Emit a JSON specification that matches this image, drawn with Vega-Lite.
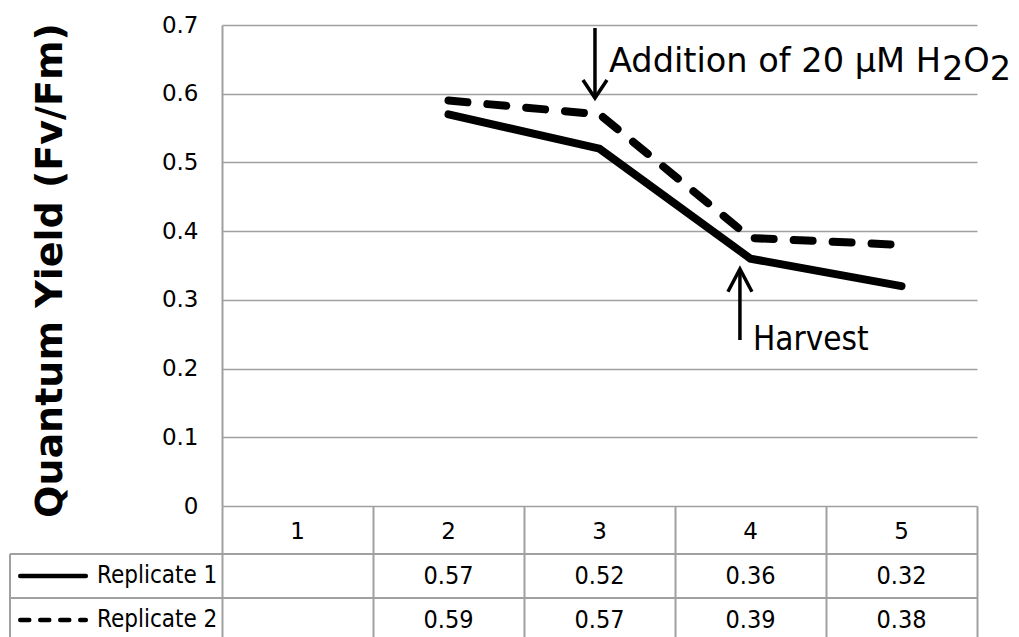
{
  "$schema": "https://vega.github.io/schema/vega-lite/v6.json",
  "width": 755,
  "height": 481,
  "autosize": {"type": "none"},
  "padding": {"left": 222, "top": 25, "right": 42, "bottom": 131},
  "background": "white",
  "config": {"view": {"stroke": null}, "font": "DejaVu Sans"},
  "datasets": {
    "qy": [
      {"series": "Replicate 1", "trial": 2, "value": 0.57},
      {"series": "Replicate 1", "trial": 3, "value": 0.52},
      {"series": "Replicate 1", "trial": 4, "value": 0.36},
      {"series": "Replicate 1", "trial": 5, "value": 0.32},
      {"series": "Replicate 2", "trial": 2, "value": 0.59},
      {"series": "Replicate 2", "trial": 3, "value": 0.57},
      {"series": "Replicate 2", "trial": 4, "value": 0.39},
      {"series": "Replicate 2", "trial": 5, "value": 0.38}
    ],
    "trials": [{"trial": 1}, {"trial": 2}, {"trial": 3}, {"trial": 4}, {"trial": 5}],
    "series": [{"series": "Replicate 1"}, {"series": "Replicate 2"}],
    "notes": [
      {"note": "Addition of 20 µM H2O2", "label": "Addition of 20 µM H", "trial": 2.97, "from": 0.6956, "to": 0.5938},
      {"note": "Harvest", "label": "Harvest", "trial": 3.93, "from": 0.2416, "to": 0.3449}
    ]
  },
  "layer": [
    {
      "data": {"name": "qy"},
      "transform": [{"filter": "datum.series === 'Replicate 1'"}],
      "mark": {"type": "line", "color": "black", "strokeWidth": 8, "strokeCap": "round"},
      "encoding": {
        "x": {
          "field": "trial", "type": "quantitative",
          "scale": {"domain": [0.5, 5.5], "nice": false, "zero": false},
          "axis": {"values": [0.5, 1.5, 2.5, 3.5, 4.5, 5.5], "labels": false, "domain": false, "grid": false, "ticks": true, "tickSize": 137, "tickColor": "#a0a0a0", "tickWidth": 2, "title": null}
        },
        "y": {
          "field": "value", "type": "quantitative",
          "scale": {"domain": [0, 0.7], "nice": false, "zero": false},
          "axis": {
            "values": [0, 0.1, 0.2, 0.3, 0.4, 0.5, 0.6, 0.7], "format": "~g",
            "grid": true, "gridColor": "#a0a0a0", "gridWidth": 1.5,
            "domain": true, "domainColor": "#a0a0a0", "domainWidth": 2, "ticks": false,
            "labelFont": "DejaVu Sans", "labelFontSize": 23, "labelColor": "black", "labelPadding": 24,
            "title": "Quantum Yield (Fv/Fm)", "titleFont": "DejaVu Sans", "titleFontWeight": "bold", "titleFontSize": 38, "titleColor": "black",
            "titleAngle": 270, "titleX": -161, "titleY": 245, "titleBaseline": "alphabetic", "titleAlign": "center"
          }
        }
      }
    },
    {
      "data": {"name": "qy"},
      "transform": [{"filter": "datum.series === 'Replicate 2'"}],
      "mark": {"type": "line", "color": "black", "strokeWidth": 8, "strokeCap": "round", "strokeDash": [19, 20]},
      "encoding": {
        "x": {"field": "trial", "type": "quantitative"},
        "y": {"field": "value", "type": "quantitative"}
      }
    },
    {
      "data": {"name": "qy"},
      "transform": [{"filter": "datum.series === 'Replicate 1'"}],
      "mark": {"type": "text", "font": "DejaVu Sans Condensed, DejaVu Sans", "fontSize": 25, "color": "black", "baseline": "middle", "align": "center"},
      "encoding": {
        "x": {"field": "trial", "type": "quantitative"},
        "y": {"datum": -0.1019},
        "text": {"field": "value", "type": "quantitative", "format": ".2f"}
      }
    },
    {
      "data": {"name": "qy"},
      "transform": [{"filter": "datum.series === 'Replicate 2'"}],
      "mark": {"type": "text", "font": "DejaVu Sans Condensed, DejaVu Sans", "fontSize": 25, "color": "black", "baseline": "middle", "align": "center"},
      "encoding": {
        "x": {"field": "trial", "type": "quantitative"},
        "y": {"datum": -0.1659},
        "text": {"field": "value", "type": "quantitative", "format": ".2f"}
      }
    },
    {
      "data": {"name": "trials"},
      "mark": {"type": "text", "font": "DejaVu Sans", "fontSize": 23, "color": "black", "baseline": "middle", "align": "center"},
      "encoding": {
        "x": {"field": "trial", "type": "quantitative"},
        "y": {"datum": -0.0378},
        "text": {"field": "trial", "type": "nominal"}
      }
    },
    {
      "data": {"name": "series"},
      "transform": [{"filter": "datum.series === 'Replicate 1'"}],
      "mark": {"type": "text", "font": "DejaVu Sans Condensed, DejaVu Sans", "fontSize": 24, "color": "black", "baseline": "middle", "align": "left"},
      "encoding": {
        "x": {"datum": -0.328},
        "y": {"datum": -0.1019},
        "text": {"field": "series", "type": "nominal"}
      }
    },
    {
      "data": {"name": "series"},
      "transform": [{"filter": "datum.series === 'Replicate 2'"}],
      "mark": {"type": "text", "font": "DejaVu Sans Condensed, DejaVu Sans", "fontSize": 24, "color": "black", "baseline": "middle", "align": "left"},
      "encoding": {
        "x": {"datum": -0.328},
        "y": {"datum": -0.1659},
        "text": {"field": "series", "type": "nominal"}
      }
    },
    {
      "data": {"values": [{}]},
      "mark": {"type": "rule", "color": "black", "strokeWidth": 4.5, "strokeCap": "round"},
      "encoding": {
        "x": {"datum": -0.836},
        "x2": {"datum": -0.402},
        "y": {"datum": -0.1019}
      }
    },
    {
      "data": {"values": [{}]},
      "mark": {"type": "rule", "color": "black", "strokeWidth": 4.5, "strokeCap": "round", "strokeDash": [9, 11]},
      "encoding": {
        "x": {"datum": -0.836},
        "x2": {"datum": -0.402},
        "y": {"datum": -0.1659}
      }
    },
    {
      "data": {"values": [{}]},
      "mark": {"type": "rule", "color": "#a0a0a0", "strokeWidth": 2},
      "encoding": {
        "x": {"datum": -0.904},
        "x2": {"datum": 5.5},
        "y": {"datum": -0.0699}
      }
    },
    {
      "data": {"values": [{}]},
      "mark": {"type": "rule", "color": "#a0a0a0", "strokeWidth": 2},
      "encoding": {
        "x": {"datum": -0.904},
        "x2": {"datum": 5.5},
        "y": {"datum": -0.1339}
      }
    },
    {
      "data": {"values": [{}]},
      "mark": {"type": "rule", "color": "#a0a0a0", "strokeWidth": 2},
      "encoding": {
        "x": {"datum": -0.904},
        "y": {"datum": -0.0699},
        "y2": {"datum": -0.2}
      }
    },
    {
      "data": {"name": "notes"},
      "mark": {"type": "rule", "color": "black", "strokeWidth": 3.5},
      "encoding": {
        "x": {"field": "trial", "type": "quantitative"},
        "y": {"field": "from", "type": "quantitative"},
        "y2": {"field": "to"}
      }
    },
    {
      "data": {"name": "notes"},
      "transform": [{"filter": "datum.note === 'Harvest'"}],
      "mark": {"type": "point", "shape": "M-1,1.9L0,0L1,1.9", "size": 576, "filled": false, "fill": "transparent", "stroke": "black", "strokeWidth": 3.5, "opacity": 1},
      "encoding": {
        "x": {"field": "trial", "type": "quantitative"},
        "y": {"field": "to", "type": "quantitative"}
      }
    },
    {
      "data": {"name": "notes"},
      "transform": [{"filter": "datum.note !== 'Harvest'"}],
      "mark": {"type": "point", "shape": "M-1,-1.5L0,0L1,-1.5", "size": 576, "filled": false, "fill": "transparent", "stroke": "black", "strokeWidth": 3.5, "opacity": 1},
      "encoding": {
        "x": {"field": "trial", "type": "quantitative"},
        "y": {"field": "to", "type": "quantitative"}
      }
    },
    {
      "data": {"name": "notes"},
      "transform": [{"filter": "datum.note !== 'Harvest'"}],
      "mark": {"type": "text", "font": "DejaVu Sans", "fontSize": 33.6, "color": "black", "align": "left", "baseline": "alphabetic", "dx": 14, "dy": 44},
      "encoding": {
        "x": {"field": "trial", "type": "quantitative"},
        "y": {"field": "from", "type": "quantitative"},
        "text": {"field": "label", "type": "nominal"}
      }
    },
    {
      "data": {"name": "notes"},
      "transform": [{"filter": "datum.note !== 'Harvest'"}],
      "mark": {"type": "text", "font": "DejaVu Sans", "fontSize": 33.6, "color": "black", "align": "left", "baseline": "alphabetic", "dx": 347, "dy": 52, "text": "2"},
      "encoding": {
        "x": {"field": "trial", "type": "quantitative"},
        "y": {"field": "from", "type": "quantitative"}
      }
    },
    {
      "data": {"name": "notes"},
      "transform": [{"filter": "datum.note !== 'Harvest'"}],
      "mark": {"type": "text", "font": "DejaVu Sans", "fontSize": 33.6, "color": "black", "align": "left", "baseline": "alphabetic", "dx": 368.4, "dy": 44, "text": "O"},
      "encoding": {
        "x": {"field": "trial", "type": "quantitative"},
        "y": {"field": "from", "type": "quantitative"}
      }
    },
    {
      "data": {"name": "notes"},
      "transform": [{"filter": "datum.note !== 'Harvest'"}],
      "mark": {"type": "text", "font": "DejaVu Sans", "fontSize": 33.6, "color": "black", "align": "left", "baseline": "alphabetic", "dx": 394.8, "dy": 52, "text": "2"},
      "encoding": {
        "x": {"field": "trial", "type": "quantitative"},
        "y": {"field": "from", "type": "quantitative"}
      }
    },
    {
      "data": {"name": "notes"},
      "transform": [{"filter": "datum.note === 'Harvest'"}],
      "mark": {"type": "text", "font": "DejaVu Sans Condensed, DejaVu Sans", "fontSize": 33, "color": "black", "align": "left", "baseline": "alphabetic", "dx": 13, "dy": 10},
      "encoding": {
        "x": {"field": "trial", "type": "quantitative"},
        "y": {"field": "from", "type": "quantitative"},
        "text": {"field": "label", "type": "nominal"}
      }
    }
  ]
}
